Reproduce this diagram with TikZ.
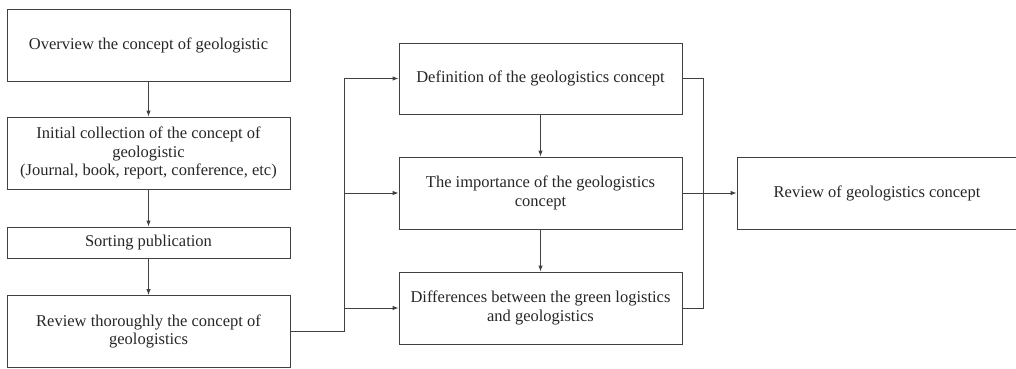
\documentclass[tikz,border=0pt]{standalone}
\usepackage{fontspec}
\setmainfont{Liberation Serif}
\usetikzlibrary{arrows.meta}
\begin{document}
\begin{tikzpicture}[x=1pt,y=-1pt,
  box/.style={draw=black!75,line width=0.9pt,rectangle,align=center,inner sep=2pt,
    font=\fontsize{16.5}{18.5}\selectfont,text=black!85},
  conn/.style={draw=black!75,line width=0.9pt},
  arr/.style={conn,-{Latex[length=6pt,width=4.5pt]}}]
\useasboundingbox (0,0) rectangle (1016,368);
\node[box,minimum width=283pt,minimum height=72pt] (b1) at (148.5,45) {Overview the concept of geologistic};
\node[box,minimum width=283pt,minimum height=72pt] (b2) at (148.5,153) {Initial collection of the concept of\\geologistic\\(Journal, book, report, conference, etc)};
\node[box,minimum width=283pt,minimum height=31pt] (b3) at (148.5,242.5) {Sorting publication};
\node[box,minimum width=283pt,minimum height=72pt] (b4) at (148.5,331.5) {Review thoroughly the concept of\\geologistics};
\node[box,minimum width=283pt,minimum height=71pt] (def) at (540.5,78.5) {Definition of the geologistics concept};
\node[box,minimum width=283pt,minimum height=72pt] (imp) at (540.5,193) {The importance of the geologistics\\concept};
\node[box,minimum width=283pt,minimum height=72pt] (dif) at (540.5,308) {Differences between the green logistics\\and geologistics};
\node[box,minimum width=280pt,minimum height=72pt] (rev) at (877,193) {Review of geologistics concept};
\draw[arr] (b1.south) -- (b2.north);
\draw[arr] (b2.south) -- (b3.north);
\draw[arr] (b3.south) -- (b4.north);
\draw[arr] (def.south) -- (imp.north);
\draw[arr] (imp.south) -- (dif.north);
\coordinate (bl) at (344,331.5);
\draw[conn] (b4.east) -- (bl);
\draw[arr] (bl) |- (def.west);
\draw[arr] (bl |- imp.west) -- (imp.west);
\draw[arr] (bl |- dif.west) -- (dif.west);
\coordinate (br) at (703,0);
\draw[conn] (def.east) -| (br |- dif.east) -- (dif.east);
\draw[arr] (imp.east) -- (rev.west);
\end{tikzpicture}
\end{document}
